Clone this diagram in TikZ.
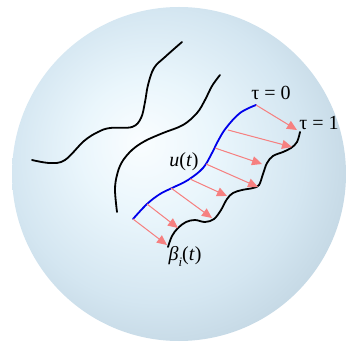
\documentclass[tikz,border=0pt]{standalone}
\usepackage{fontspec}
\setmainfont{Liberation Serif}
\usetikzlibrary{arrows.meta}

\definecolor{sphcore}{RGB}{250,253,255}
\definecolor{sphlight}{RGB}{234,246,252}
\definecolor{sphmid}{RGB}{212,230,241}
\definecolor{sphsoft}{RGB}{190,210,223}
\definecolor{sphrim}{RGB}{163,182,195}
\definecolor{sphedge}{RGB}{132,149,160}
\definecolor{sphdark}{RGB}{108,122,132}
\definecolor{arrowpink}{RGB}{246,128,128}
\definecolor{ublue}{RGB}{0,0,235}

\pgfdeclareradialshading{sphereshade}{\pgfpoint{-6bp}{5bp}}{color(0bp)=(sphcore); color(10bp)=(sphlight); color(22bp)=(sphmid); color(32bp)=(sphsoft); color(40bp)=(sphrim); color(46bp)=(sphedge); color(50bp)=(sphdark)}

\begin{document}
\begin{tikzpicture}[x=1pt, y=-1pt,
    curve/.style={line width=1.8pt, line cap=round},
    ucurve/.style={curve, draw=ublue},
    maparrow/.style={-{Triangle[length=10pt, width=9pt]}, draw=arrowpink, fill=arrowpink, line width=1pt},
    label/.style={font=\fontsize{20}{24}\selectfont, inner sep=0pt}
]
\useasboundingbox (0,0) rectangle (347,344);

% Sphere
\shade[shading=sphereshade] (179,174) circle [radius=167];

% Other curves on the sphere
\draw[curve] plot[smooth, tension=0.6] coordinates {(32,160) (50,163) (65,160) (84,141) (98,132) (110,128) (132,127) (141,118) (145,102) (148,85) (154,68) (165,57) (182,42)};
\draw[curve] plot[smooth, tension=0.6] coordinates {(117,212) (115,190) (117,175) (122,162) (132,150) (145,141) (163,133) (183,125) (197,113) (205,100) (212,86) (220,75)};

% u(t) and beta_i(t)
\draw[ucurve] plot[smooth, tension=0.6] coordinates {(133,219) (147,204) (160,194) (172,188) (188,180) (203,168) (212,153) (218,141) (226,128) (240,113) (256,105)};
\draw[curve] plot[smooth, tension=0.6] coordinates {(168,247) (172,236) (178,228) (186,222) (195,220) (205,222) (214,219) (221,210) (227,199) (233,193) (242,190) (253,188) (259,185) (263,174) (267,163) (273,156) (283,152) (291,148) (297,142) (300,132)};

% Points on both curves
\coordinate (u1) at (133,219); \coordinate (b1) at (167,245);
\coordinate (u2) at (147,204); \coordinate (b2) at (178,228);
\coordinate (u3) at (171,188); \coordinate (b3) at (212,218);
\coordinate (u4) at (190,179); \coordinate (b4) at (227,196);
\coordinate (u5) at (206,164); \coordinate (b5) at (258,187);
\coordinate (u6) at (215,148); \coordinate (b6) at (262,164);
\coordinate (u7) at (228,130); \coordinate (b7) at (292,147);
\coordinate (u8) at (256,105); \coordinate (b8) at (297,130);

% Path straightening arrows
\draw[maparrow] (u1) -- (b1);
\draw[maparrow] (u2) -- (b2);
\draw[maparrow] (u3) -- (b3);
\draw[maparrow] (u4) -- (b4);
\draw[maparrow] (u5) -- (b5);
\draw[maparrow] (u6) -- (b6);
\draw[maparrow] (u7) -- (b7);
\draw[maparrow] (u8) -- (b8);

% Labels
\node[label] (tau0) at (271,93) {τ = 0};
\node[label] (tau1) at (319,123) {τ = 1};
\node[label] (ulabel) at (184,162) {\textit{u}(\textit{t})};
\node[label] (betalabel) at (185,256) {\textit{β}\raisebox{-0.3em}{\fontsize{13}{15}\selectfont\textit{i}}(\textit{t})};

\end{tikzpicture}
\end{document}
